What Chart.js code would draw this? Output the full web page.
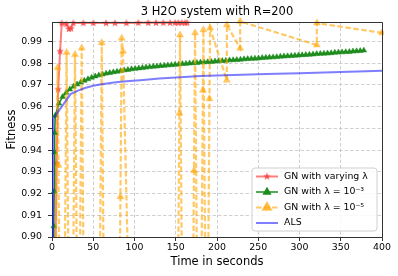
<!DOCTYPE html>
<html><head><meta charset="utf-8">
<script src="https://cdn.jsdelivr.net/npm/chart.js@4/dist/chart.umd.min.js"></script>
<style>html,body{margin:0;padding:0;background:#fff}</style>
</head><body>
<canvas id="c" width="398" height="276" style="width:398px;height:276px;display:block"></canvas>
<script>
const chartTitle = '3 H2O system with R=200';
const xLabel = 'Time in seconds';
const yLabel = 'Fitness';
const xTicks = [0, 50, 100, 150, 200, 250, 300, 350, 400];
const yTicks = [0.90, 0.91, 0.92, 0.93, 0.94, 0.95, 0.96, 0.97, 0.98, 0.99];
const seriesLabels = ['GN with varying λ', 'GN with λ = 10⁻³', 'GN with λ = 10⁻⁵', 'ALS'];

const redTime = [3, 5.5, 7.5, 9.8, 11.8, 17.5, 20.5, 23, 25.8, 38, 50.1, 65.5, 76.4, 90.2, 104.6, 116.7, 126.1, 135, 143.1, 149.2, 153.2, 157.3, 161.4, 163.8];
const redFit  = [0.85, 0.934, 0.968, 0.9855, 0.9984, 0.998, 0.9958, 0.996, 0.9985, 0.9985, 0.9985, 0.9985, 0.9985, 0.9985, 0.9986, 0.9986, 0.9986, 0.9986, 0.9986, 0.9986, 0.9986, 0.9986, 0.9986, 0.9986];

const greenTime = [1.5, 2.2, 2.7, 3.1, 3.5, 4, 8.4, 12.8, 17.2, 21.6, 26, 30.4, 34.8, 39.2, 43.6, 48, 52.4, 56.8, 61.2, 65.6, 70, 74.4, 78.8, 83.2, 87.6, 92, 96.4, 100.8, 105.2, 109.6, 114, 118.4, 122.8, 127.2, 131.6, 136, 140.4, 144.8, 149.2, 153.6, 158, 162.4, 166.8, 171.2, 175.6, 180, 184.4, 188.8, 193.2, 197.6, 202, 206.4, 210.8, 215.2, 219.6, 224, 228.4, 232.8, 237.2, 241.6, 246, 250.4, 254.8, 259.2, 263.6, 268, 272.4, 276.8, 281.2, 285.6, 290, 294.4, 298.8, 303.2, 307.6, 312, 316.4, 320.8, 325.2, 329.6, 334, 338.4, 342.8, 347.2, 351.6, 356, 360.4, 364.8, 369.2, 373.6, 378];
const greenFit  = [0.85, 0.905, 0.921, 0.939, 0.948, 0.956, 0.9615, 0.9645, 0.9665, 0.968, 0.9693, 0.9703, 0.9712, 0.972, 0.9727, 0.9734, 0.974, 0.9745, 0.9749, 0.9753, 0.9756, 0.9759, 0.9762, 0.9765, 0.9768, 0.977, 0.9773, 0.9775, 0.9777, 0.9779, 0.9781, 0.9783, 0.9785, 0.9786, 0.9788, 0.9789, 0.9791, 0.9792, 0.9794, 0.9795, 0.9797, 0.9798, 0.98, 0.9801, 0.9802, 0.9804, 0.9805, 0.9806, 0.9807, 0.9809, 0.981, 0.9811, 0.9812, 0.9814, 0.9815, 0.9816, 0.9817, 0.9819, 0.982, 0.9821, 0.9822, 0.9823, 0.9825, 0.9826, 0.9827, 0.9828, 0.9829, 0.9831, 0.9832, 0.9833, 0.9834, 0.9835, 0.9837, 0.9838, 0.9839, 0.984, 0.9841, 0.9843, 0.9844, 0.9845, 0.9846, 0.9847, 0.9849, 0.985, 0.9851, 0.9852, 0.9853, 0.9855, 0.9856, 0.9857, 0.9859];

const orangeTime = [0, 3.8, 6.8, 7.85, 9.8, 14.7, 17.7, 20.7, 24.9, 27.9, 30.9, 33, 36, 39, 57.3, 60.3, 63.3, 81.5, 82.95, 84.5, 86, 94.5, 152.2, 154.4, 155.2, 158.2, 170.4, 172.1, 173.4, 176.4, 180.5, 182.9, 183.5, 186.5, 188.6, 190.9, 191.6, 211.9, 212, 228, 228.1, 321, 321.1, 400];
const orangeFit  = [0.85, 0.85, 0.978, 0.933, 0.85, 0.85, 0.985, 0.85, 0.85, 0.984, 0.85, 0.85, 0.987, 0.85, 0.85, 0.9895, 0.85, 0.85, 0.9185, 0.9915, 0.9855, 0.85, 0.85, 0.957, 0.993, 0.85, 0.85, 0.9306, 0.994, 0.85, 0.85, 0.9676, 0.9954, 0.85, 0.85, 0.9637, 0.9962, 0.9722, 0.9977, 0.9869, 0.9993, 0.9884, 0.9985, 0.994];

const blueTime = [0.8, 1.6, 22.5, 30, 40, 50, 60, 75, 90, 107, 130, 155, 180, 220, 260, 300, 350, 400];
const blueFit  = [0.85, 0.9545, 0.9658, 0.9672, 0.9686, 0.9696, 0.9703, 0.9711, 0.9717, 0.9722, 0.973, 0.9736, 0.9741, 0.9746, 0.975, 0.9754, 0.976, 0.9766];

const FONT = '"DejaVu Sans", sans-serif';
const RED = 'rgba(255,40,40,0.6)';
const GREEN = '#1e8c1e';
const ORANGE = 'rgba(255,165,0,0.6)';
const BLUE = 'rgba(20,20,255,0.55)';

function starCanvas(color, r) {
  const s = Math.ceil(r * 2 + 2);
  const c = document.createElement('canvas');
  c.width = s; c.height = s;
  const g = c.getContext('2d');
  g.fillStyle = color;
  g.beginPath();
  for (let i = 0; i < 10; i++) {
    const a = -Math.PI / 2 + i * Math.PI / 5;
    const rr = (i % 2) ? r * 0.42 : r;
    g.lineTo(s / 2 + rr * Math.cos(a), s / 2 + rr * Math.sin(a));
  }
  g.closePath(); g.fill();
  return c;
}
const starImg = starCanvas('rgba(245,70,70,0.9)', 4);

function pts(ts, vs) { return ts.map((t, i) => ({x: t, y: vs[i]})); }
const clipCfg = {left: 5, top: 6, right: 2, bottom: 0};

const datasets = [
  {label: seriesLabels[0], data: pts(redTime, redFit), borderColor: RED, backgroundColor: RED,
   borderWidth: 2, pointStyle: starImg, pointRadius: 4, order: 4, clip: clipCfg},
  {label: seriesLabels[1], data: pts(greenTime, greenFit), borderColor: GREEN, backgroundColor: GREEN,
   borderWidth: 1.5, pointStyle: 'triangle', pointRadius: 3.3, pointBorderWidth: 0.5, pointBorderColor: GREEN, order: 3, clip: clipCfg},
  {label: seriesLabels[2], data: pts(orangeTime, orangeFit), borderColor: ORANGE, backgroundColor: ORANGE,
   borderWidth: 2.2, borderDash: [5.5, 2.5], pointStyle: 'triangle', pointRadius: 4, pointBorderWidth: 0.5, pointBorderColor: ORANGE, order: 2, clip: clipCfg},
  {label: seriesLabels[3], data: pts(blueTime, blueFit), borderColor: BLUE, backgroundColor: BLUE,
   borderWidth: 2, pointRadius: 0, order: 1, clip: clipCfg}
];

const deco = {
  id: 'deco',
  afterDraw(chart) {
    const {ctx, chartArea: a} = chart;
    ctx.save();
    ctx.strokeStyle = '#333'; ctx.lineWidth = 1;
    ctx.beginPath();
    ctx.moveTo(a.left, a.top + 0.5); ctx.lineTo(a.right + 0.5, a.top + 0.5);
    ctx.lineTo(a.right + 0.5, a.bottom);
    ctx.stroke();
    ctx.fillStyle = '#000';
    ctx.font = '11.5px ' + FONT;
    ctx.textAlign = 'center'; ctx.textBaseline = 'middle';
    ctx.fillText(chartTitle, (a.left + a.right) / 2, 12.5);
    const bx = 252, by = 168, bw = 125, bh = 63, r = 3;
    ctx.beginPath();
    ctx.moveTo(bx + r, by); ctx.lineTo(bx + bw - r, by); ctx.arcTo(bx + bw, by, bx + bw, by + r, r);
    ctx.lineTo(bx + bw, by + bh - r); ctx.arcTo(bx + bw, by + bh, bx + bw - r, by + bh, r);
    ctx.lineTo(bx + r, by + bh); ctx.arcTo(bx, by + bh, bx, by + bh - r, r);
    ctx.lineTo(bx, by + r); ctx.arcTo(bx, by, bx + r, by, r);
    ctx.closePath();
    ctx.fillStyle = 'rgba(255,255,255,0.85)'; ctx.fill();
    ctx.strokeStyle = '#d0d0d0'; ctx.lineWidth = 1; ctx.stroke();
    const rows = [176.5, 192, 207.5, 223];
    chart.data.datasets.forEach((ds, i) => {
      const y = rows[i];
      ctx.save();
      ctx.strokeStyle = ds.borderColor; ctx.lineWidth = ds.borderWidth;
      ctx.setLineDash(ds.borderDash || []);
      ctx.beginPath(); ctx.moveTo(256, y); ctx.lineTo(278, y); ctx.stroke();
      ctx.setLineDash([]);
      if (ds.pointRadius > 0) {
        ctx.fillStyle = ds.backgroundColor; ctx.strokeStyle = ds.borderColor;
        Chart.helpers.drawPoint(ctx, {pointStyle: ds.pointStyle, radius: ds.pointRadius + 0.5, rotation: 0, borderWidth: 0.5}, 267, y);
      }
      ctx.restore();
      ctx.fillStyle = '#000';
      ctx.font = '9.4px ' + FONT;
      ctx.textAlign = 'left'; ctx.textBaseline = 'middle';
      ctx.fillText(ds.label, 284, y);
    });
    ctx.restore();
  }
};

new Chart(document.getElementById('c'), {
  type: 'line',
  data: {datasets},
  options: {
    responsive: false,
    animation: false,
    layout: {padding: {top: 22, right: 16, left: 0, bottom: 0}},
    plugins: {legend: {display: false}, title: {display: false}, tooltip: {enabled: false}},
    elements: {line: {tension: 0}},
    scales: {
      x: {
        type: 'linear', min: 0, max: 400,
        afterBuildTicks: s => { s.ticks = xTicks.map(v => ({value: v})); },
        afterFit: s => { s.height = 39; },
        ticks: {color: '#000', font: {family: FONT, size: 9.4}, padding: 1, maxRotation: 0},
        grid: {color: '#c4c4c4', lineWidth: 0.8, tickLength: 4, tickColor: '#333', tickWidth: 1, tickBorderDash: []},
        border: {display: true, color: '#333', width: 1, dash: [3.5, 2]},
        title: {display: true, text: xLabel, color: '#000', font: {family: FONT, size: 11.5}, padding: {top: 0, bottom: 7}}
      },
      y: {
        type: 'linear', min: 0.9, max: 0.999,
        afterBuildTicks: s => { s.ticks = yTicks.map(v => ({value: v})); },
        afterFit: s => { s.width = 52; },
        ticks: {color: '#000', font: {family: FONT, size: 9.4}, padding: 6, callback: v => Number(v).toFixed(2)},
        grid: {color: '#c4c4c4', lineWidth: 0.8, tickLength: 4, tickColor: '#333', tickWidth: 1, tickBorderDash: []},
        border: {display: true, color: '#333', width: 1, dash: [3.5, 2]},
        title: {display: true, text: yLabel, color: '#000', font: {family: FONT, size: 11.5}, padding: {top: 5, bottom: 0}}
      }
    }
  },
  plugins: [deco]
});
</script>
</body></html>
